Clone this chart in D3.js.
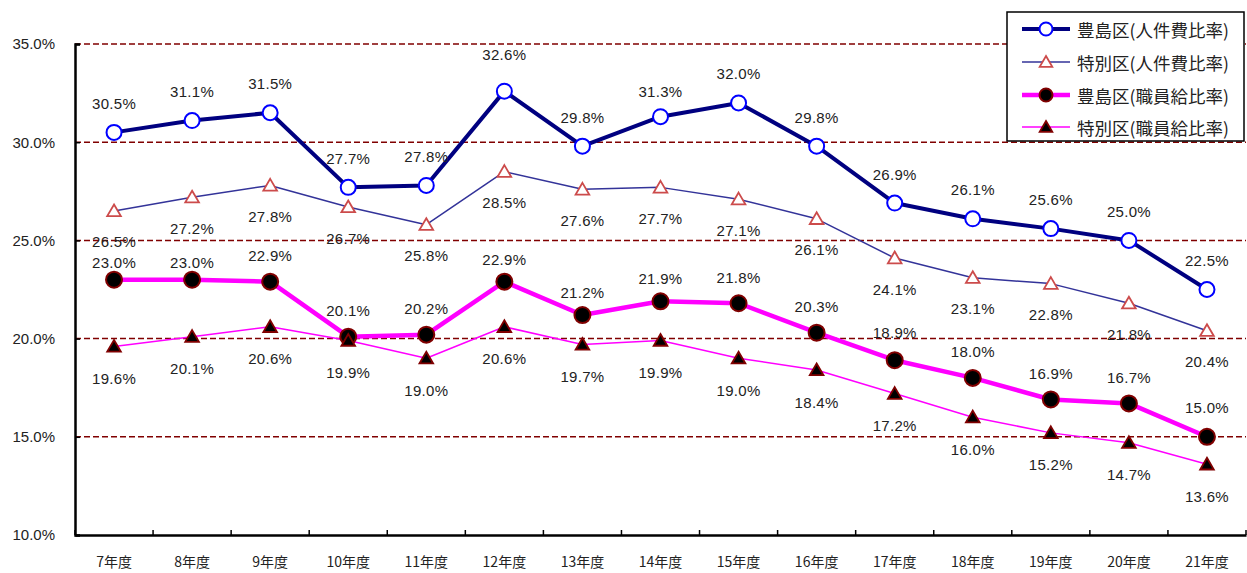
<!DOCTYPE html>
<html><head><meta charset="utf-8">
<script src="https://cdn.jsdelivr.net/npm/d3@7"></script>
<style>
html,body{margin:0;padding:0;background:#fff;}
svg{display:block;}
</style>
</head><body>
<svg id="chart" width="1247" height="573"></svg>
<script>
const categories = ["7年度","8年度","9年度","10年度","11年度","12年度","13年度","14年度","15年度","16年度","17年度","18年度","19年度","20年度","21年度"];
const toshimaPersonnel = [30.5,31.1,31.5,27.7,27.8,32.6,29.8,31.3,32.0,29.8,26.9,26.1,25.6,25.0,22.5];
const specialPersonnel = [26.5,27.2,27.8,26.7,25.8,28.5,27.6,27.7,27.1,26.1,24.1,23.1,22.8,21.8,20.4];
const toshimaSalary = [23.0,23.0,22.9,20.1,20.2,22.9,21.2,21.9,21.8,20.3,18.9,18.0,16.9,16.7,15.0];
const specialSalary = [19.6,20.1,20.6,19.9,19.0,20.6,19.7,19.9,19.0,18.4,17.2,16.0,15.2,14.7,13.6];
const yTicks = [10,15,20,25,30,35];
const seriesNames = ["豊島区(人件費比率)","特別区(人件費比率)","豊島区(職員給比率)","特別区(職員給比率)"];

const svg = d3.select("#chart");
const L = 75, R = 1246, T = 44, B = 535;
const x = d3.scaleBand().domain(categories).range([L, R]);
const y = d3.scaleLinear().domain([10, 35]).range([B, T]);
const cx = c => x(c) + x.bandwidth() / 2;
const numFont = "'Liberation Sans', Arial, sans-serif";
const jpFont = "'Noto Sans CJK JP', sans-serif";

// gridlines
svg.append("g").selectAll("line").data(yTicks.filter(d => d > 10)).join("line")
  .attr("x1", L).attr("x2", R).attr("y1", d => y(d)).attr("y2", d => y(d))
  .attr("stroke", "#800000").attr("stroke-width", 1.5).attr("stroke-dasharray", "6,3");

// y axis
const yAxis = svg.append("g").attr("transform", `translate(${L},0)`)
  .call(d3.axisLeft(y).tickValues(yTicks).tickSize(-5).tickPadding(20).tickFormat(d => d.toFixed(1) + "%"));
yAxis.select(".domain").attr("stroke", "#000").attr("stroke-width", 2.5);
yAxis.selectAll(".tick line").attr("stroke", "#000").attr("stroke-width", 1.5);
yAxis.selectAll("text").attr("font-family", numFont).attr("font-size", 15).attr("fill", "#222");

// x axis
const xAxis = svg.append("g").attr("transform", `translate(0,${B})`)
  .call(d3.axisBottom(x).tickSize(0).tickPadding(22));
xAxis.select(".domain").attr("stroke", "#000").attr("stroke-width", 2.5);
xAxis.selectAll("text").attr("font-family", jpFont).attr("font-size", 14).attr("fill", "#222");
svg.append("g").selectAll("line").data(d3.range(categories.length + 1)).join("line")
  .attr("x1", i => L + i * x.bandwidth()).attr("x2", i => L + i * x.bandwidth())
  .attr("y1", B).attr("y2", B - 5).attr("stroke", "#000").attr("stroke-width", 1.5);

const series = [
  {name: seriesNames[0], values: toshimaPersonnel, line: "#000080", lw: 4, marker: "circle", r: 7.5, fill: "#fff", stroke: "#0000ff", sw: 2, dy: -29, adj: {5: -37, 7: -25}},
  {name: seriesNames[1], values: specialPersonnel, line: "#333399", lw: 1.5, marker: "triangle", r: 6.5, fill: "#fff", stroke: "#cc4b4b", sw: 1.8, dy: 31, adj: {}},
  {name: seriesNames[2], values: toshimaSalary, line: "#ff00ff", lw: 4.5, marker: "circle", r: 8, fill: "#000", stroke: "#800000", sw: 2, dy: -26, adj: {0: -17, 1: -17, 5: -22, 6: -23, 7: -23, 10: -28, 14: -29}},
  {name: seriesNames[3], values: specialSalary, line: "#ff00ff", lw: 1.5, marker: "triangle", r: 6.5, fill: "#000", stroke: "#800000", sw: 1.8, dy: 32, adj: {}}
];
const triPath = s => `M0,${-s}L${s*1.05},${s*0.8}L${-s*1.05},${s*0.8}Z`;

function drawMarker(g, s) {
  if (s.marker === "circle") {
    g.append("circle").attr("r", s.r).attr("fill", s.fill).attr("stroke", s.stroke).attr("stroke-width", s.sw);
  } else {
    g.append("path").attr("d", triPath(s.r)).attr("fill", s.fill).attr("stroke", s.stroke).attr("stroke-width", s.sw);
  }
}

const lineGen = d3.line().x((d, i) => cx(categories[i])).y(d => y(d));
series.forEach(s => {
  svg.append("path").datum(s.values).attr("d", lineGen).attr("fill", "none")
    .attr("stroke", s.line).attr("stroke-width", s.lw).attr("stroke-linejoin", "round");
});
series.forEach(s => {
  s.values.forEach((v, i) => {
    const g = svg.append("g").attr("transform", `translate(${cx(categories[i])},${y(v)})`);
    drawMarker(g, s);
  });
});
series.forEach(s => {
  svg.append("g").selectAll("text").data(s.values).join("text")
    .attr("x", (d, i) => cx(categories[i]))
    .attr("y", (d, i) => y(d) + (s.adj[i] !== undefined ? s.adj[i] : s.dy))
    .attr("text-anchor", "middle").attr("dominant-baseline", "central")
    .attr("font-family", numFont).attr("font-size", 15).attr("letter-spacing", 0.3).attr("fill", "#222")
    .text(d => d.toFixed(1) + "%");
});

// legend
const lg = svg.append("g");
lg.append("rect").attr("x", 1007).attr("y", 12).attr("width", 237).attr("height", 129)
  .attr("fill", "#fff").attr("stroke", "#000").attr("stroke-width", 1.5);
const legY = [29, 62, 95, 127];
series.forEach((s, i) => {
  lg.append("line").attr("x1", 1022).attr("x2", 1070).attr("y1", legY[i]).attr("y2", legY[i])
    .attr("stroke", s.line).attr("stroke-width", s.lw);
  const g = lg.append("g").attr("transform", `translate(1046,${legY[i]})`);
  drawMarker(g, Object.assign({}, s, {r: s.marker === "circle" ? 6.5 : 6}));
  lg.append("text").attr("x", 1077).attr("y", legY[i]).attr("dominant-baseline", "central")
    .attr("font-family", jpFont).attr("font-size", 17.5).attr("fill", "#222").text(s.name);
});
</script>
</body></html>
